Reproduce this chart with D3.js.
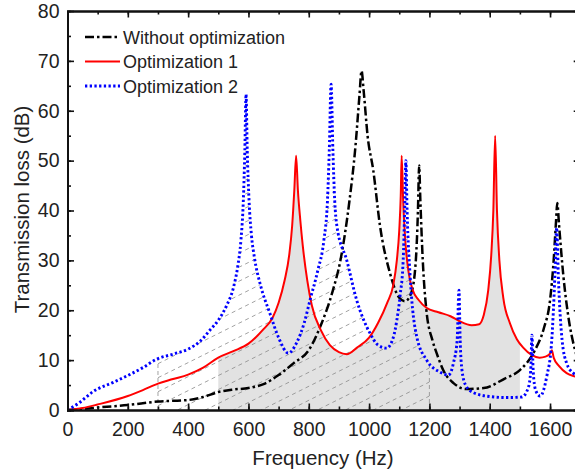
<!DOCTYPE html>
<html>
<head>
<meta charset="utf-8">
<script src="https://cdn.jsdelivr.net/npm/d3@7"></script>
<style>
  body { margin: 0; background: #fff; }
  svg text { font-family: "Liberation Sans", Arial, sans-serif; fill: #222; }
</style>
</head>
<body>
<svg id="chart" width="575" height="474"></svg>
<script>
// [frequency Hz, transmission loss dB]
var withoutOpt = [[0,0],[50,0.2],[100,0.5],[200,1],[300,1.7],[400,2],[450,2.6],[500,3.6],[550,4.1],[600,4.4],
  [650,5.2],[700,7],[750,9.4],[800,12],[840,17],[880,24],[905,30],[935,42],[955,53],[968,63],[975,68],[982,64],
  [995,55],[1014,48],[1036,37],[1069,27.5],[1100,22.5],[1119,21.8],[1140,23.5],[1155,30],[1162,40],[1166,49],
  [1170,42],[1178,30],[1190,20],[1210,14],[1224,11.4],[1250,7.5],[1280,5.4],[1320,4.2],[1380,4.4],[1450,6.3],
  [1500,8],[1550,12],[1580,16.5],[1600,22],[1612,30],[1620,38],[1624,41.5],[1630,37],[1644,27],[1660,19],
  [1683,12],[1700,9]]

var optim1 = [[0,0],[50,0.4],[100,1.1],[200,2.8],[250,4],[300,5.3],[350,6.2],[400,7.1],[450,8.5],[500,10.5],
  [550,11.8],[600,13.3],[650,16.2],[680,18.5],[700,21.5],[720,26],[735,31],[745,37],[752,44],[758,51],[764,44],
  [772,38],[780,33],[795,26],[810,21],[840,16],[870,13],[900,11.6],[926,11.2],[960,12.5],[1000,14.5],[1030,17.5],
  [1060,21.5],[1080,25],[1092,30],[1100,36],[1105,43],[1108,51],[1113,42],[1120,34],[1130,28],[1145,24],
  [1165,22],[1190,20.5],[1230,19.6],[1270,18.8],[1300,17.8],[1340,17],[1365,17.2],[1380,19],[1395,24],
  [1405,31],[1412,40],[1418,55],[1424,40],[1432,30],[1445,22.5],[1467,17.4],[1490,14.2],[1511,12.5],
  [1540,11],[1565,10.5],[1585,10.7],[1600,11.3],[1606,12],[1612,10.5],[1630,8.8],[1655,7.4],[1683,6.7],[1700,6.4]]

var optim2 = [[0,0],[40,1.5],[85,3.7],[150,5.5],[196,6.8],[250,8.5],[296,10.2],[350,11.2],[400,12.2],[440,13.8],
  [472,16],[500,18],[528,21],[550,24.5],[565,29],[575,34],[583,42],[588,52],[592,63.3],[596,52],[602,42],
  [610,35],[620,30.5],[640,25],[671,19.4],[700,14.5],[732,11.4],[760,13.5],[785,17.5],[804,22],[830,28],
  [850,34],[862,42],[868,52],[874,65.3],[880,52],[886,42],[893,37],[926,30],[959,22],[1003,15.4],[1030,13],
  [1058,12.4],[1080,14.5],[1092,18],[1103,23],[1113,30],[1118,40],[1122,50],[1126,40],[1136,27],[1158,14.7],
  [1191,10],[1235,7.6],[1263,7],[1280,9.5],[1292,14],[1298,24],[1302,14],[1308,8],[1320,5],[1345,3.5],
  [1400,2.7],[1456,2.5],[1506,2.6],[1528,4.5],[1536,8],[1540,15],[1544,8],[1552,4],[1567,2.8],[1589,6.7],
  [1605,13.4],[1616,26.8],[1622,36.5],[1628,26],[1640,14],[1655,9.4],[1677,7.4],[1700,6.8]]

var seriesNames = ["Without optimization", "Optimization 1", "Optimization 2"]
var grayBand = [500, 1500]    // shaded under Optimization 1
var hatchBand = [300, 1200]   // hatched under Optimization 2
var xTicks = [0, 200, 400, 600, 800, 1000, 1200, 1400, 1600]
var yTicks = [0, 10, 20, 30, 40, 50, 60, 70, 80]

var svg = d3.select("#chart")
var x = d3.scaleLinear().domain([0, 1700]).range([67.5, 580.2])
var y = d3.scaleLinear().domain([0, 80]).range([410, 11])

var defs = svg.append("defs")
defs.append("clipPath").attr("id", "plot-clip").append("rect")
  .attr("x", x(0)).attr("y", y(80)).attr("width", x(1700) - x(0)).attr("height", y(0) - y(80))
defs.append("clipPath").attr("id", "gray-clip").append("rect")
  .attr("x", x(grayBand[0])).attr("y", y(80)).attr("width", x(grayBand[1]) - x(grayBand[0])).attr("height", y(0) - y(80))
defs.append("clipPath").attr("id", "hatch-clip").append("rect")
  .attr("x", x(hatchBand[0])).attr("y", y(80)).attr("width", x(hatchBand[1]) - x(hatchBand[0])).attr("height", y(0) - y(80))

var line = d3.line().x(d => x(d[0])).y(d => y(d[1])).curve(d3.curveMonotoneX)
var area = d3.area().x(d => x(d[0])).y0(y(0)).y1(d => y(d[1])).curve(d3.curveMonotoneX)

defs.append("clipPath").attr("id", "blue-area").append("path").attr("d", area(optim2))

var plot = svg.append("g").attr("clip-path", "url(#plot-clip)")

// gray band under optimization 1
plot.append("g").attr("clip-path", "url(#gray-clip)")
  .append("path").attr("d", area(optim1)).attr("fill", "#e2e2e2")

// hatched band under optimization 2
var hatch = plot.append("g").attr("clip-path", "url(#hatch-clip)")
  .append("g").attr("clip-path", "url(#blue-area)")
var hx0 = x(hatchBand[0]), hx1 = x(hatchBand[1])
for (var c = y(0) + 0.5 * (hx1 - hx0); c > y(80) - 20; c -= 14) {
  hatch.append("line")
    .attr("x1", hx0).attr("y1", c)
    .attr("x2", hx1).attr("y2", c - 0.5 * (hx1 - hx0))
    .attr("stroke", "#8a8a8a").attr("stroke-width", 0.8).attr("stroke-dasharray", "4,3.5")
}
// vertical dashed edges of the hatch band
function valueAt(data, f) {
  var i = d3.bisector(d => d[0]).left(data, f)
  var a = data[i - 1], b = data[i]
  return a[1] + (b[1] - a[1]) * (f - a[0]) / (b[0] - a[0])
}
hatchBand.forEach(function(f) {
  plot.append("line")
    .attr("x1", x(f)).attr("x2", x(f)).attr("y1", y(0)).attr("y2", y(valueAt(optim2, f)))
    .attr("stroke", "#8a8a8a").attr("stroke-width", 0.8).attr("stroke-dasharray", "4,3")
})

var styles = [
  {data: withoutOpt, color: "#000000", width: 2.5, dash: "9,3,2.5,3"},
  {data: optim1, color: "#ff0000", width: 2, dash: null},
  {data: optim2, color: "#0000ff", width: 2.9, dash: "2.3,2.4"}
]
styles.forEach(function(s) {
  plot.append("path").attr("d", line(s.data))
    .attr("fill", "none").attr("stroke", s.color).attr("stroke-width", s.width)
    .attr("stroke-dasharray", s.dash)
})

// axes with inward ticks
var minorX = d3.range(0, 1701, 100), minorY = d3.range(0, 81, 5)
function frame(axis, tr, minor, major, labels) {
  var gMinor = svg.append("g").attr("transform", tr)
    .call(axis.tickValues(minor).tickSize(-3.5).tickFormat(""))
  var g = svg.append("g").attr("transform", tr)
    .call(axis.tickValues(major).tickSize(-6.5).tickPadding(labels == "x" ? 12 : 8).tickFormat(labels ? d3.format("d") : ""))
  ;[gMinor, g].forEach(function(gg) {
    gg.selectAll(".domain").attr("stroke", "#111").attr("stroke-width", 2)
    gg.selectAll(".tick line").attr("stroke", "#111").attr("stroke-width", 1.6)
    gg.selectAll("text").attr("font-size", "19.5px").attr("fill", "#222")
      .style("font-family", "'Liberation Sans', Arial, sans-serif")
  })
  return g
}
frame(d3.axisBottom(x), "translate(0," + y(0) + ")", minorX, xTicks, "x")
frame(d3.axisTop(x), "translate(0," + y(80) + ")", minorX, xTicks, null)
frame(d3.axisLeft(y), "translate(" + x(0) + ",0)", minorY, yTicks, "y")
frame(d3.axisRight(y), "translate(" + x(1700) + ",0)", minorY, yTicks, null)
svg.selectAll(".domain").attr("d", function() { return d3.select(this).attr("d").replace(/V-?6\.5|V-?3\.5|H-?6\.5|H-?3\.5/g, "") })

svg.append("text").attr("x", 323).attr("y", 465).attr("text-anchor", "middle")
  .attr("font-size", "20.5px").text("Frequency (Hz)")
svg.append("text").attr("transform", "translate(29," + (y(40) - 1) + ") rotate(-90)")
  .attr("text-anchor", "middle").attr("font-size", "20.5px").text("Transmission loss (dB)")

// legend
var legend = svg.append("g")
styles.forEach(function(s, i) {
  var ly = 37 + i * 24.5
  legend.append("line").attr("x1", 85).attr("x2", 120).attr("y1", ly).attr("y2", ly)
    .attr("stroke", s.color).attr("stroke-width", s.width).attr("stroke-dasharray", s.dash)
  legend.append("text").attr("x", 123).attr("y", ly + 6.5).attr("font-size", "18px").text(seriesNames[i])
})
</script>
</body>
</html>
